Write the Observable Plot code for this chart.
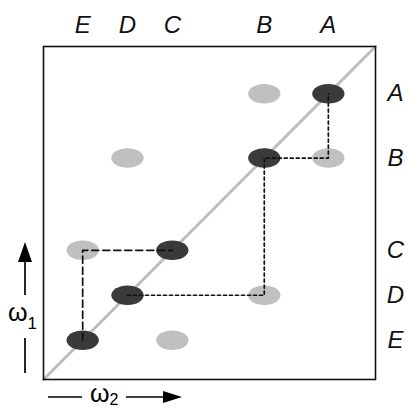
<!DOCTYPE html>
<html>
<head>
<meta charset="utf-8">
<script src="https://cdn.jsdelivr.net/npm/d3@7"></script>
<script src="https://cdn.jsdelivr.net/npm/@observablehq/plot@0.6"></script>
<style>
  html, body { margin: 0; padding: 0; background: #fff; }
  svg { font-family: "Liberation Sans", Arial, sans-serif; }
</style>
</head>
<body>
<div id="chart"></div>
<script>
// Categories and their positions (same for both axes, fraction of the range)
const labels = ["A", "B", "C", "D", "E"];
const positions = [0.858, 0.665, 0.388, 0.253, 0.118];
const domain = [0, 1];

// Off-diagonal (light) points as [xLabel, yLabel]
const lightPairs = [["B", "A"], ["A", "B"], ["D", "B"], ["E", "C"], ["B", "D"], ["C", "E"]];
// Paths
const dashedPath = [["E", "E"], ["E", "C"], ["C", "C"]];
const dottedPath = [["D", "D"], ["B", "D"], ["B", "B"], ["A", "B"], ["A", "A"]];

const pos = Object.fromEntries(labels.map((l, i) => [l, positions[i]]));
const darkPts = labels.map(l => ({x: pos[l], y: pos[l]}));
const toPts = pairs => pairs.map(([a, b]) => ({x: pos[a], y: pos[b]}));

// ellipse symbol
const ellipse = {
  draw(ctx, size) {
    const r = Math.sqrt(size / Math.PI);
    const rx = r * 1.65, ry = r, k = 0.5523;
    ctx.moveTo(rx, 0);
    ctx.bezierCurveTo(rx, ry * k, rx * k, ry, 0, ry);
    ctx.bezierCurveTo(-rx * k, ry, -rx, ry * k, -rx, 0);
    ctx.bezierCurveTo(-rx, -ry * k, -rx * k, -ry, 0, -ry);
    ctx.bezierCurveTo(rx * k, -ry, rx, -ry * k, rx, 0);
    ctx.closePath();
  }
};

// decorative axis titles with arrows
function axisTitles() {
  const g = d3.create("svg:g");
  const ink = "#000";
  // left: vertical arrow, ω1, line
  const lx = 25;
  g.append("line").attr("x1", lx).attr("x2", lx).attr("y1", 259).attr("y2", 295)
    .attr("stroke", ink).attr("stroke-width", 1.7);
  g.append("path").attr("d", `M${lx},242 L${lx - 7},262 L${lx + 7},262 Z`).attr("fill", ink);
  const t1 = g.append("text").attr("x", 8).attr("y", 321).attr("font-size", 25)
    .attr("text-anchor", "start").attr("fill", ink);
  t1.append("tspan").text("ω");
  t1.append("tspan").attr("font-size", 17).attr("dy", 8).text("1");
  g.append("line").attr("x1", lx).attr("x2", lx).attr("y1", 338).attr("y2", 373)
    .attr("stroke", ink).attr("stroke-width", 1.7);
  // bottom: line, ω2, arrow
  const by = 397;
  g.append("line").attr("x1", 48).attr("x2", 82).attr("y1", by).attr("y2", by)
    .attr("stroke", ink).attr("stroke-width", 1.7);
  const t2 = g.append("text").attr("x", 90).attr("y", 402).attr("font-size", 25)
    .attr("text-anchor", "start").attr("fill", ink);
  t2.append("tspan").text("ω");
  t2.append("tspan").attr("font-size", 16).attr("dy", 3).text("2");
  g.append("line").attr("x1", 126).attr("x2", 165).attr("y1", by).attr("y2", by)
    .attr("stroke", ink).attr("stroke-width", 1.7);
  g.append("path").attr("d", `M182,${by} L163,${by - 6} L163,${by + 6} Z`).attr("fill", ink);
  return g.node();
}

const chart = Plot.plot({
  width: 408,
  height: 408,
  marginLeft: 43,
  marginRight: 33,
  marginTop: 46,
  marginBottom: 29,
  x: {domain, axis: null},
  y: {domain, axis: null},
  marks: [
    Plot.line(domain, {x: d => d, y: d => d, stroke: "#bdbdbd", strokeWidth: 3}),
    Plot.dot(toPts(lightPairs), {x: "x", y: "y", r: 9.8, symbol: ellipse, fill: "#c0c0c0", stroke: "none"}),
    Plot.dot(darkPts, {x: "x", y: "y", r: 9.8, symbol: ellipse, fill: "#3a3a3a", stroke: "none"}),
    Plot.line(toPts(dashedPath), {x: "x", y: "y", stroke: "#111", strokeWidth: 1.7, strokeDasharray: "7,4", curve: "linear"}),
    Plot.line(toPts(dottedPath), {x: "x", y: "y", stroke: "#111", strokeWidth: 1.7, strokeDasharray: "3,3", curve: "linear"}),
    Plot.frame({stroke: "#111", strokeWidth: 1.6}),
    Plot.text(labels, {x: positions, frameAnchor: "top", lineAnchor: "middle", dy: -21, text: d => d, fontSize: 24, fontStyle: "italic", fill: "#111"}),
    Plot.text(labels, {y: positions, frameAnchor: "right", lineAnchor: "middle", dx: 20, text: d => d, fontSize: 24, fontStyle: "italic", fill: "#111", textAnchor: "middle"}),
    axisTitles
  ]
});
document.getElementById("chart").appendChild(chart);
</script>
</body>
</html>
